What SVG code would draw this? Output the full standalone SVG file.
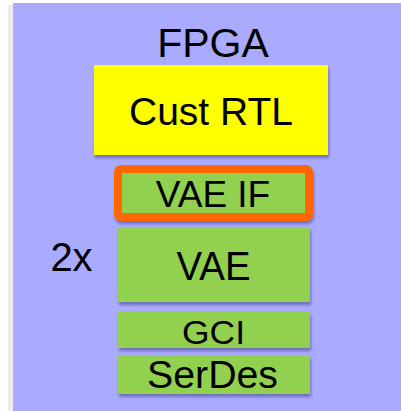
<svg xmlns="http://www.w3.org/2000/svg" width="401" height="411" viewBox="0 0 401 411">
<defs>
<filter id="sh" x="-10%" y="-20%" width="130%" height="160%">
<feDropShadow dx="1" dy="3" stdDeviation="1.5" flood-color="#000040" flood-opacity="0.35"/>
</filter>
<style>
.t{font-family:"Liberation Sans",Arial,sans-serif;fill:#000;text-anchor:middle}
.g{fill:#92D050}
</style>
</defs>
<rect x="0" y="0" width="401" height="411" fill="#ffffff"/>
<rect x="8" y="5" width="5" height="406" fill="#ececec"/>
<g id="fpga">
<rect x="13" y="3" width="388" height="408" fill="#AAAAFF"/>
<text class="t" x="213" y="57" font-size="41">FPGA</text>
</g>
<g id="cust-rtl">
<rect x="94" y="65" width="234" height="90" fill="#FFFF00" filter="url(#sh)"/>
<text class="t" x="211" y="125" font-size="39" textLength="164" lengthAdjust="spacingAndGlyphs">Cust RTL</text>
</g>
<g id="vae-if">
<rect x="118" y="169" width="191" height="48" rx="3" class="g" stroke="#FF6600" stroke-width="8" filter="url(#sh)"/>
<text class="t" x="213" y="207" font-size="37">VAE IF</text>
</g>
<g id="vae">
<rect x="118" y="227" width="192" height="75" class="g" filter="url(#sh)"/>
<text class="t" x="213.5" y="280" font-size="40" textLength="74" lengthAdjust="spacingAndGlyphs">VAE</text>
</g>
<g id="label-2x">
<text class="t" x="71.5" y="271" font-size="40">2x</text>
</g>
<g id="gci">
<rect x="118" y="312" width="192" height="36" class="g" filter="url(#sh)"/>
<text class="t" x="213.5" y="344" font-size="34" textLength="63" lengthAdjust="spacingAndGlyphs">GCI</text>
</g>
<g id="serdes">
<rect x="118" y="355" width="192" height="39" class="g" filter="url(#sh)"/>
<text class="t" x="212.5" y="388" font-size="38" textLength="131" lengthAdjust="spacingAndGlyphs">SerDes</text>
</g>
<g id="connectors"></g>
</svg>
